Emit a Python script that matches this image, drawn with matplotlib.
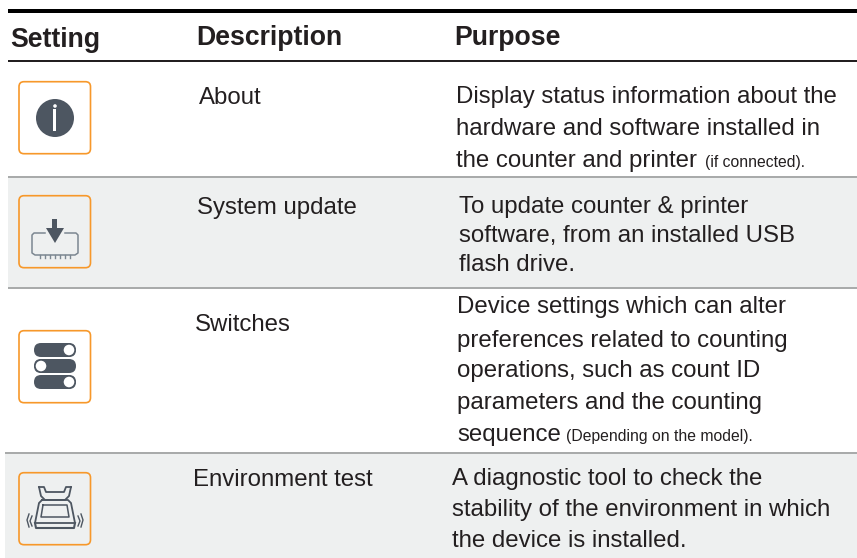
import matplotlib
matplotlib.use("Agg")
import matplotlib.pyplot as plt
from matplotlib.patches import FancyBboxPatch, Rectangle, Circle, Polygon

plt.rcParams['font.family'] = ['Liberation Sans', 'DejaVu Sans']

TEXT_COLOR = "#231f20"
ICON_COLOR = "#4d5661"
ORANGE     = "#f7982a"
ROW_GREY   = "#eef0f0"
RULE_GREY  = "#a9abab"

HEADERS = ["Setting", "Description", "Purpose"]
SETTINGS = ["About", "System update", "Switches", "Environment test"]
PURPOSE = [
    ["Display status information about the", "hardware and software installed in", "the counter and printer"],
    ["To update counter & printer", "software, from an installed USB", "flash drive."],
    ["Device settings which can alter", "preferences related to counting", "operations, such as count ID",
     "parameters and the counting", "sequence"],
    ["A diagnostic tool to check the", "stability of the environment in which", "the device is installed."],
]
NOTES = ["(if connected).", "", "(Depending on the model).", ""]

fig = plt.figure(figsize=(8.57, 5.58), dpi=100)
ax = fig.add_axes([0, 0, 1, 1])
ax.set_xlim(0, 857)
ax.set_ylim(558, 0)
ax.axis('off')


# ── table frame ───────────────────────────────────────────────────────────────
ax.add_patch(Rectangle((8, 177), 849, 111, fc=ROW_GREY, ec='none'))
ax.add_patch(Rectangle((5, 453), 852, 105, fc=ROW_GREY, ec='none'))
ax.add_patch(Rectangle((8, 9), 849, 4, fc='black', ec='none'))
ax.add_patch(Rectangle((8, 60), 849, 2, fc=TEXT_COLOR, ec='none'))
ax.add_patch(Rectangle((8, 176), 849, 2, fc=RULE_GREY, ec='none'))
ax.add_patch(Rectangle((8, 287), 849, 2, fc=RULE_GREY, ec='none'))
ax.add_patch(Rectangle((5, 452), 852, 2, fc=RULE_GREY, ec='none'))


# ── icons ─────────────────────────────────────────────────────────────────────
def icon_box(y, fill):
    ax.add_patch(FancyBboxPatch((19, y + 0.7), 71.5, 72, boxstyle="round,pad=0,rounding_size=5",
                                fc=fill, ec=ORANGE, lw=1.2))


def icon_info(cx, cy):
    ax.add_patch(Circle((cx, cy), 19, fc=ICON_COLOR, ec='none'))
    ax.add_patch(Rectangle((cx - 1.5, cy - 9), 3, 22, fc='white', ec='none'))
    ax.add_patch(Circle((cx, cy - 12), 1.8, fc='white', ec='none'))


def icon_update(cx, cy):
    ax.plot([cx - 10, cx - 21, cx - 23, cx - 23, cx - 20, cx + 20, cx + 23, cx + 23, cx + 21, cx + 10],
            [cy - 11, cy - 11, cy - 9, cy + 9, cy + 11, cy + 11, cy + 9, cy - 9, cy - 11, cy - 11],
            color="#7c8791", lw=1.1)
    for i in range(7):
        x = cx - 15 + i * 5
        ax.plot([x, x], [cy + 11, cy + 14], color="#7c8791", lw=1)
    ax.add_patch(Rectangle((cx - 2.5, cy - 25), 5, 12, fc=ICON_COLOR, ec='none'))
    ax.add_patch(Polygon([(cx - 9, cy - 16), (cx + 9, cy - 16), (cx, cy - 1)], fc=ICON_COLOR, ec='none'))


def icon_switches(cx, cy):
    for dy, knob in [(-16, 14), (0, -14), (16, 14)]:
        ax.add_patch(FancyBboxPatch((cx - 21, cy + dy - 7), 42, 14, boxstyle="round,pad=0,rounding_size=7",
                                    fc=ICON_COLOR, ec='none'))
        ax.add_patch(Circle((cx + knob, cy + dy), 6, fc='white', ec=ICON_COLOR, lw=1))


def icon_scale(cx, cy):
    c = ICON_COLOR
    # tray
    ax.plot([cx - 16, cx - 14, cx - 10, cx + 10, cx + 14, cx + 16],
            [cy - 20, cy - 11, cy - 7, cy - 7, cy - 11, cy - 20], color=c, lw=1.3)
    ax.plot([cx - 16, cx - 11, cx - 9, cx + 9, cx + 11, cx + 16],
            [cy - 20, cy - 20, cy - 15, cy - 15, cy - 20, cy - 20], color=c, lw=1.3)
    # body
    ax.plot([cx - 13, cx - 16, cx - 20, cx + 20, cx + 16, cx + 13, cx - 13],
            [cy - 7, cy - 4, cy + 16, cy + 16, cy - 4, cy - 7, cy - 7], color=c, lw=1.3)
    ax.plot([cx - 12, cx + 12, cx + 14, cx - 14, cx - 12], [cy - 2, cy - 2, cy + 10, cy + 10, cy - 2], color=c, lw=1.1)
    ax.plot([cx - 20, cx - 19, cx + 19, cx + 20], [cy + 16, cy + 21, cy + 21, cy + 16], color=c, lw=1.5)
    # vibration marks
    for sx in (-1, 1):
        ax.plot([cx + sx * 26, cx + sx * 28, cx + sx * 26], [cy + 7, cy + 13, cy + 20], color=c, lw=1)
        ax.plot([cx + sx * 23, cx + sx * 25, cx + sx * 23], [cy + 9, cy + 14, cy + 19], color=c, lw=1)


icon_box(81, 'white')
icon_info(55, 118)
icon_box(195, ROW_GREY)
icon_update(55, 244)
icon_box(330, 'white')
icon_switches(55, 366)
icon_box(472, ROW_GREY)
icon_scale(55, 507)


# ── text ──────────────────────────────────────────────────────────────────────
HEAD_X = [10, 196, 454]
HEAD_Y = [40, 38, 38]
for h, x, y in zip(HEADERS, HEAD_X, HEAD_Y):
    ax.text(x, y, h, fontsize=19.2, fontweight='bold', color=TEXT_COLOR, va='center', ha='left')

SET_X = [199, 197, 195, 193]
SET_Y = [98, 208, 325, 480]
for s, x, y in zip(SETTINGS, SET_X, SET_Y):
    ax.text(x, y, s, fontsize=17.3, color=TEXT_COLOR, va='center', ha='left')

PURPOSE_X = [456, 459, 457, 452]
PURPOSE_Y = [[97, 129, 161], [207, 236, 265], [307, 341, 371, 403, 435], [479, 510, 541]]
NOTE_X = [705, 0, 566, 0]
for i, lines in enumerate(PURPOSE):
    for line, y in zip(lines, PURPOSE_Y[i]):
        ax.text(PURPOSE_X[i], y, line, fontsize=17.3, color=TEXT_COLOR, va='center', ha='left')
    if NOTES[i]:
        ax.text(NOTE_X[i], PURPOSE_Y[i][-1] + 2, NOTES[i], fontsize=11.3, color=TEXT_COLOR, va='center', ha='left')

fig.savefig("out.png", dpi=100)
